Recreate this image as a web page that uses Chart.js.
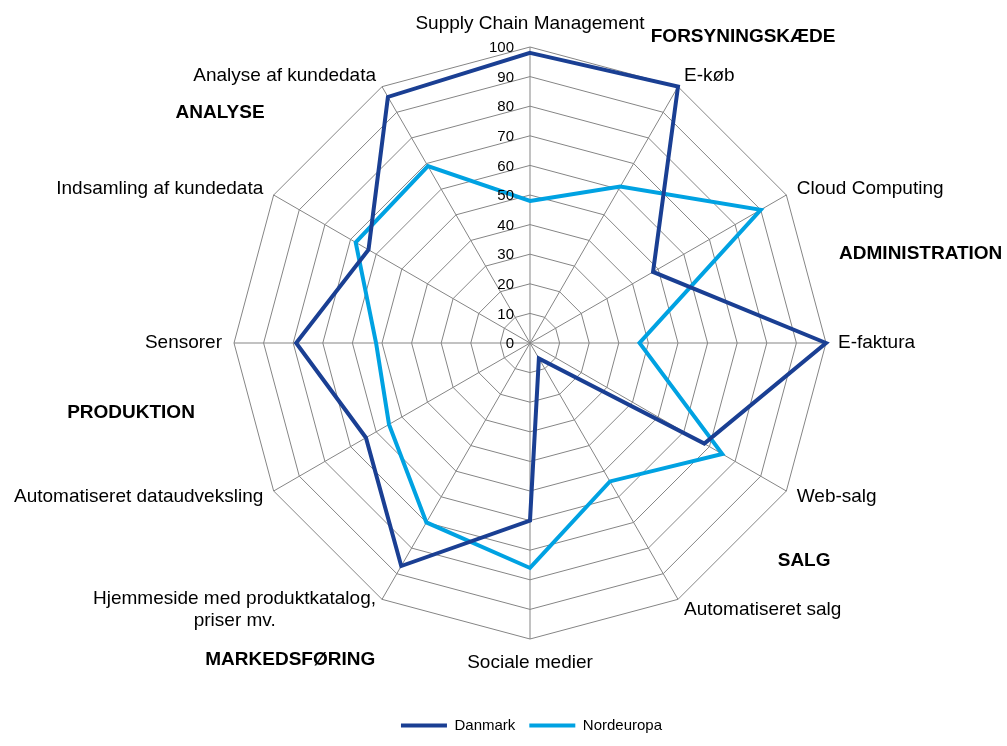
<!DOCTYPE html>
<html>
<head>
<meta charset="utf-8">
<script src="https://cdn.jsdelivr.net/npm/chart.js@4/dist/chart.umd.min.js"></script>
<style>
  html, body { margin: 0; padding: 0; background: #fff; }
  #wrap { width: 1007px; height: 746px; position: relative; }
</style>
</head>
<body>
<div id="wrap"><canvas id="radarChart"></canvas></div>
<script>
const categories = [
    'Supply Chain Management', 'E-køb', 'Cloud Computing', 'E-faktura', 'Web-salg',
    'Automatiseret salg', 'Sociale medier',
    ['Hjemmeside med produktkatalog,', 'priser mv.' + '\u00a0'.repeat(19)],
    'Automatiseret dataudveksling', 'Sensorer', 'Indsamling af kundedata', 'Analyse af kundedata'
];
const danmark = [98, 100, 48, 100, 68, 6, 60, 87, 64, 79, 63, 96];
const nordeuropa = [48, 61, 90, 37, 75, 54, 76, 70, 55, 52, 68, 69];
const tickValues = [0, 10, 20, 30, 40, 50, 60, 70, 80, 90, 100];

// grupperne rundt om diagrammet
const groupNames = ['FORSYNINGSKÆDE', 'ADMINISTRATION', 'SALG', 'MARKEDSFØRING', 'PRODUKTION', 'ANALYSE'];
// placering i forhold til centrum, i radius-enheder
const groupOffsets = [[0.72, -1.034], [1.32, -0.30], [0.926, 0.736], [-0.81, 1.07], [-1.348, 0.236], [-1.047, -0.777]];

// fast placering af selve edderkoppen (som i Excel-udgaven)
const CENTER_X = 530;
const CENTER_Y = 343;
const RADIUS = 296;
const LABEL_PAD = 12;

const fontFamily = 'Arial, "Liberation Sans", sans-serif';

// tal-etiketter til venstre for den lodrette akse
const tickLabels = {
    id: 'tickLabels',
    afterDraw(chart) {
        const r = chart.scales.r;
        const ctx = chart.ctx;
        ctx.save();
        ctx.font = '15px ' + fontFamily;
        ctx.fillStyle = '#000';
        ctx.textAlign = 'right';
        ctx.textBaseline = 'middle';
        tickValues.forEach(v => {
            const d = r.getDistanceFromCenterForValue(v);
            ctx.fillText(String(v), r.xCenter - 16, r.yCenter - d + 1);
        });
        ctx.restore();
    }
};

const groupLabels = {
    id: 'groupLabels',
    afterDraw(chart) {
        const r = chart.scales.r;
        const ctx = chart.ctx;
        const R = r.drawingArea;
        ctx.save();
        ctx.font = 'bold 19px ' + fontFamily;
        ctx.fillStyle = '#000';
        ctx.textAlign = 'center';
        ctx.textBaseline = 'middle';
        groupNames.forEach((name, i) => {
            ctx.fillText(name, r.xCenter + groupOffsets[i][0] * R, r.yCenter + groupOffsets[i][1] * R);
        });
        ctx.restore();
    }
};

// flytter skalaen efter fit, saa centrum og radius passer,
// og centrerer etiketterne lodret paa deres akse som i Excel
function placeScale(scale) {
    scale.xCenter = CENTER_X;
    scale.yCenter = CENTER_Y;
    scale.drawingArea = RADIUS;
    const n = categories.length;
    (scale._pointLabelItems || []).forEach((item, i) => {
        const p = scale.getPointPosition(i, RADIUS + LABEL_PAD);
        const w = item.right - item.left;
        const h = item.bottom - item.top;
        const deg = Math.round(i * 360 / n);
        let top = p.y - h / 2;
        if (deg === 0) top = p.y - h;
        if (deg === 180) top = p.y;
        let left = p.x - w / 2;
        if (item.textAlign === 'left') left = p.x;
        if (item.textAlign === 'right') left = p.x - w;
        item.x = p.x;
        item.y = top;
        item.top = top;
        item.bottom = top + h;
        item.left = left;
        item.right = left + w;
    });
}

const ctx = document.getElementById('radarChart').getContext('2d');

new Chart(ctx, {
    type: 'radar',
    data: {
        labels: categories,
        datasets: [{
            label: 'Danmark',
            data: danmark,
            borderColor: '#1a3f93',
            backgroundColor: '#1a3f93',
            borderWidth: 4,
            fill: false,
            pointRadius: 0,
            pointHoverRadius: 0,
            pointStyle: 'line',
            clip: false
        }, {
            label: 'Nordeuropa',
            data: nordeuropa,
            borderColor: '#00a2e2',
            backgroundColor: '#00a2e2',
            borderWidth: 4,
            fill: false,
            pointRadius: 0,
            pointHoverRadius: 0,
            pointStyle: 'line',
            clip: false
        }]
    },
    options: {
        responsive: true,
        maintainAspectRatio: false,
        animation: false,
        layout: { padding: { top: 0, bottom: 3, left: 56, right: 0 } },
        elements: { line: { tension: 0 } },
        scales: {
            r: {
                min: 0,
                max: 100,
                ticks: { stepSize: 10, display: false },
                grid: { color: '#858585', lineWidth: 1 },
                angleLines: { color: '#858585', lineWidth: 1 },
                pointLabels: {
                    font: { size: 19, family: fontFamily },
                    color: '#000',
                    padding: LABEL_PAD
                },
                afterFit: placeScale
            }
        },
        plugins: {
            legend: {
                position: 'bottom',
                labels: {
                    usePointStyle: true,
                    pointStyle: 'line',
                    pointStyleWidth: 46,
                    color: '#000',
                    font: { size: 15, family: fontFamily },
                    padding: 14
                }
            },
            tooltip: { enabled: false }
        }
    },
    plugins: [tickLabels, groupLabels]
});
</script>
</body>
</html>
